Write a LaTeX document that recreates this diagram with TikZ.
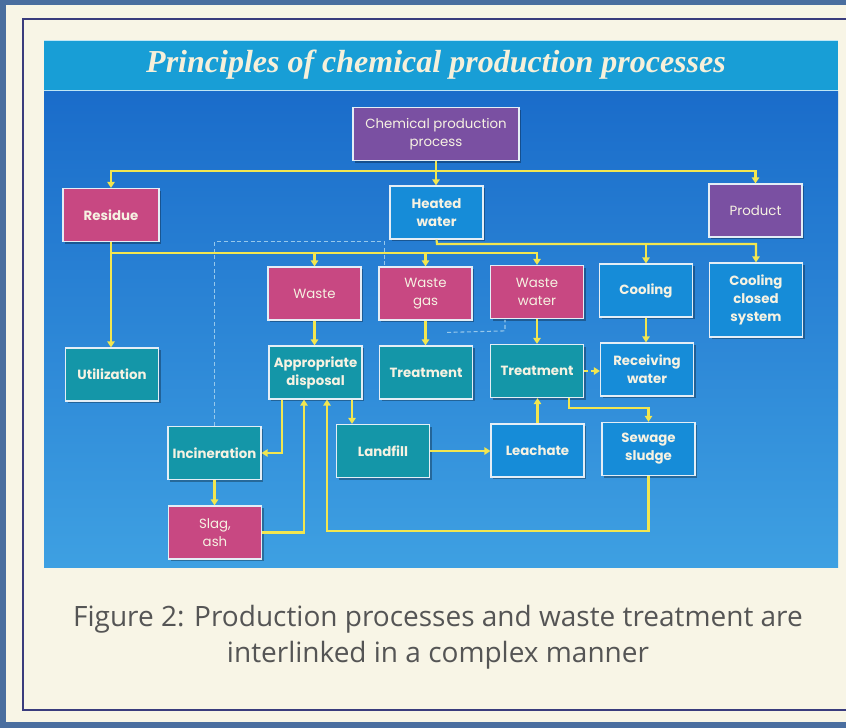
\documentclass[tikz,border=0pt]{standalone}
\usepackage{fontspec}
\setmainfont{Liberation Serif}
\setsansfont{Poppins}
\newfontfamily\capfont{Open Sans}
\usetikzlibrary{arrows.meta,calc,shadows}

\definecolor{slate}{RGB}{74,110,159}
\definecolor{cream}{RGB}{248,245,230}
\definecolor{frameline}{RGB}{58,60,125}
\definecolor{band}{RGB}{24,158,214}
\definecolor{bandline}{RGB}{190,230,245}
\definecolor{paneltop}{RGB}{26,108,202}
\definecolor{panelbot}{RGB}{62,160,226}
\definecolor{purpbox}{RGB}{122,80,162}
\definecolor{pinkbox}{RGB}{200,72,130}
\definecolor{bluebox}{RGB}{22,140,216}
\definecolor{tealbox}{RGB}{20,150,168}
\definecolor{boxedge}{RGB}{228,238,246}
\definecolor{boxtext}{RGB}{246,242,226}
\definecolor{flow}{RGB}{242,230,80}
\definecolor{haze}{RGB}{150,200,235}
\definecolor{titletext}{RGB}{246,240,218}
\definecolor{capgray}{RGB}{85,85,85}

\tikzset{
  box/.style={draw=boxedge, line width=0.9pt, text=boxtext, align=center,
    minimum width=69.75pt, minimum height=39.75pt, inner sep=2pt,
    font=\sffamily\fontsize{10}{13.5}\selectfont,
    drop shadow={shadow xshift=1.5pt, shadow yshift=-1.5pt, fill=black, opacity=0.3}},
  strong/.style={font=\sffamily\bfseries\fontsize{10}{13.5}\selectfont},
  link/.style={draw=flow, line width=1.6pt, -{Triangle[width=5.5pt,length=4.5pt]}},
  faint/.style={draw=haze, line width=0.8pt, dash pattern=on 3pt off 2pt},
}

\begin{document}
\begin{tikzpicture}[x=0.75pt,y=0.75pt,yscale=-1]
\useasboundingbox (0,0) rectangle (846,728);

% page and frame
\fill[slate] (0,0) rectangle (846,728);
\fill[cream] (6,5) rectangle (846,722);
\draw[frameline, line width=1.6pt] (850,19) -- (23,19) -- (23,710) -- (850,710);

% blue panel with title band
\shade[top color=paneltop, bottom color=panelbot] (44,91) rectangle (838,567);
\fill[band] (44,40) rectangle (838,90);
\draw[bandline, line width=0.9pt] (44,40.5) -- (838,40.5) (44,90.5) -- (838,90.5);
\node[font=\itshape\bfseries\fontsize{24}{28}\selectfont, text=titletext] (title) at (436,65) {Principles of chemical production processes};

% boxes
\node[box, fill=purpbox, minimum width=124.5pt] (chem) at (436,134) {Chemical production\\process};
\node[box, strong, fill=pinkbox, minimum width=72pt] (residue) at (111,215) {Residue};
\node[box, strong, fill=bluebox] (heated) at (436.5,212.5) {Heated\\water};
\node[box, fill=purpbox] (product) at (755.5,210.5) {Product};

\node[box, fill=pinkbox] (waste) at (314.5,293.5) {Waste};
\node[box, fill=pinkbox] (wgas) at (425.5,293.5) {Waste\\gas};
\node[box, fill=pinkbox] (wwater) at (537,292) {Waste\\water};
\node[box, strong, fill=bluebox] (cooling) at (646,290.5) {Cooling};
\node[box, strong, fill=bluebox, minimum height=55.5pt] (closed) at (756,300) {Cooling\\closed\\system};

\node[box, strong, fill=tealbox] (util) at (112,374.5) {Utilization};
\node[box, strong, fill=tealbox] (disp) at (315.5,372.5) {Appropriate\\disposal};
\node[box, strong, fill=tealbox] (treatg) at (426,372.5) {Treatment};
\node[box, strong, fill=tealbox] (treatw) at (537,371) {Treatment};
\node[box, strong, fill=bluebox] (recv) at (647,369.5) {Receiving\\water};

\node[box, strong, fill=tealbox] (incin) at (214.5,453) {Incineration};
\node[box, strong, fill=tealbox] (landfill) at (383,451) {Landfill};
\node[box, strong, fill=bluebox] (leach) at (537.5,450.5) {Leachate};
\node[box, strong, fill=bluebox] (sludge) at (648.5,449) {Sewage\\sludge};
\node[box, fill=pinkbox] (slag) at (215,532.5) {Slag,\\ash};

% faint dashed paths
\draw[faint] (incin.north) -- ++(0,-184) -| ($(wgas.north west)+(6,0)$);
\draw[faint] ($(treatg.north)+(21,-13)$) -- ($(treatw.north)+(-32,-13)$) -- ++(0,-11);

% production outputs
\coordinate (bus1) at (436,171);
\draw[link] (chem.south) -- (chem.south |- heated.north);
\draw[link] (bus1) -| (residue.north);
\draw[link] (bus1) -| (product.north);

\coordinate (bus2) at (437,244);
\draw[link] (heated.south) -- (bus2) -| (closed.north);
\draw[link] (bus2 -| cooling.north) -- (cooling.north);

\coordinate (bus3) at (111,253);
\draw[link] (residue.south) -- (residue.south |- util.north);
\draw[link] (bus3) -| (wwater.north);
\draw[link] (bus3 -| waste.north) -- (waste.north);
\draw[link] (bus3 -| wgas.north) -- (wgas.north);

% treatment
\draw[link] (waste.south) -- (waste.south |- disp.north);
\draw[link] (wgas.south) -- (wgas.south |- treatg.north);
\draw[link] (wwater.south) -- (wwater.south |- treatw.north);
\draw[link] (cooling.south) -- (cooling.south |- recv.north);
\draw[link, dash pattern=on 3pt off 2pt] (treatw.east) -- (treatw.east -| recv.west);

% disposal loop
\coordinate (dl) at ($(disp.south)+(36.5,0)$);
\draw[link] ($(disp.south)+(-33.5,0)$) |- (incin.east);
\draw[link] (incin.south) -- (incin.south |- slag.north);
\draw[link] (slag.east) -| ($(disp.south)+(-11.5,0)$);
\draw[link] (sludge.south) -- ++(0,55) -| ($(disp.south)+(11.5,0)$);
\draw[link] (dl) -- (dl |- landfill.north);
\draw[link] (landfill.east) -- (landfill.east -| leach.west);
\draw[link] (leach.north) -- (leach.north |- treatw.south);
\draw[link] ($(treatw.south)+(32,0)$) -- ++(0,10) -| (sludge.north);

% caption
\node[font=\capfont\fontsize{21}{27}\selectfont, text=capgray, align=center] (caption) at (438,637) {Figure 2: Production processes and waste treatment are\\interlinked in a complex manner};
\end{tikzpicture}
\end{document}
